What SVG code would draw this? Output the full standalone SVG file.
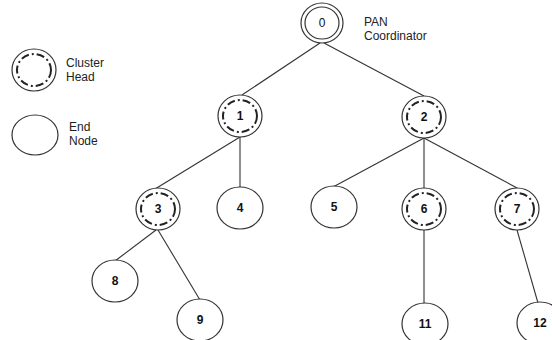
<svg xmlns="http://www.w3.org/2000/svg" width="552" height="340" viewBox="0 0 552 340">
<style>
.o{fill:#fff;stroke:#333;stroke-width:1.2}
.d{fill:none;stroke:#222;stroke-width:2;stroke-dasharray:8 3 2 3}
.e{stroke:#333;stroke-width:1.1;fill:none}
.n{font-family:"Liberation Sans",Arial,sans-serif;font-size:12px;font-weight:bold;fill:#111;text-anchor:middle}
.t{font-family:"Liberation Sans",Arial,sans-serif;font-size:12px;fill:#222}
</style>
<rect width="552" height="340" fill="#fff"/>
<g id="connectors">
<line class="e" x1="320" y1="43" x2="242" y2="95"/>
<line class="e" x1="324" y1="43" x2="424" y2="96"/>
<line class="e" x1="240" y1="137" x2="155" y2="189"/>
<line class="e" x1="240" y1="137" x2="240" y2="187"/>
<line class="e" x1="424" y1="138" x2="333" y2="187"/>
<line class="e" x1="424" y1="138" x2="424" y2="188"/>
<line class="e" x1="424" y1="138" x2="517" y2="188"/>
<line class="e" x1="156" y1="230" x2="115" y2="261"/>
<line class="e" x1="158" y1="230" x2="200" y2="300"/>
<line class="e" x1="424" y1="230" x2="424" y2="304"/>
<line class="e" x1="517" y1="230" x2="538" y2="303"/>
</g>
<g id="legend-cluster">
<ellipse class="o" cx="34" cy="70" rx="22" ry="21"/>
<ellipse class="d" cx="34" cy="70" rx="17" ry="16"/>
<text class="t" x="66" y="67">Cluster</text>
<text class="t" x="66" y="81">Head</text>
</g>
<g id="legend-end">
<ellipse class="o" cx="35" cy="135" rx="23" ry="20"/>
<text class="t" x="69" y="131">End</text>
<text class="t" x="69" y="145">Node</text>
</g>
<g id="node0">
<ellipse class="o" cx="322" cy="23" rx="21" ry="20"/>
<ellipse class="o" cx="322" cy="23" rx="17" ry="16"/>
<text class="n" x="322" y="27" style="font-weight:normal">0</text>
<text class="t" x="364" y="26">PAN</text>
<text class="t" x="364" y="40">Coordinator</text>
</g>
<g id="node1">
<ellipse class="o" cx="240" cy="116" rx="22" ry="21"/>
<ellipse class="d" cx="240" cy="116" rx="17" ry="16"/>
<text class="n" x="240" y="120">1</text>
</g>
<g id="node2">
<ellipse class="o" cx="424" cy="117" rx="22" ry="21"/>
<ellipse class="d" cx="424" cy="117" rx="17" ry="16"/>
<text class="n" x="424" y="121">2</text>
</g>
<g id="node3">
<ellipse class="o" cx="158" cy="209" rx="22" ry="21"/>
<ellipse class="d" cx="158" cy="209" rx="17" ry="16"/>
<text class="n" x="158" y="213">3</text>
</g>
<g id="node4">
<ellipse class="o" cx="240" cy="208" rx="23" ry="21"/>
<text class="n" x="240" y="212">4</text>
</g>
<g id="node5">
<ellipse class="o" cx="334" cy="207" rx="23" ry="21"/>
<text class="n" x="334" y="211">5</text>
</g>
<g id="node6">
<ellipse class="o" cx="424" cy="209" rx="22" ry="21"/>
<ellipse class="d" cx="424" cy="209" rx="17" ry="16"/>
<text class="n" x="424" y="213">6</text>
</g>
<g id="node7">
<ellipse class="o" cx="517" cy="209" rx="22" ry="21"/>
<ellipse class="d" cx="517" cy="209" rx="17" ry="16"/>
<text class="n" x="517" y="213">7</text>
</g>
<g id="node8">
<ellipse class="o" cx="115" cy="281" rx="23" ry="21"/>
<text class="n" x="115" y="285">8</text>
</g>
<g id="node9">
<ellipse class="o" cx="200" cy="320" rx="23" ry="21"/>
<text class="n" x="200" y="324">9</text>
</g>
<g id="node11">
<ellipse class="o" cx="425" cy="324" rx="23" ry="21"/>
<text class="n" x="425" y="328">11</text>
</g>
<g id="node12">
<ellipse class="o" cx="540" cy="323" rx="23" ry="21"/>
<text class="n" x="540" y="327">12</text>
</g>
</svg>
